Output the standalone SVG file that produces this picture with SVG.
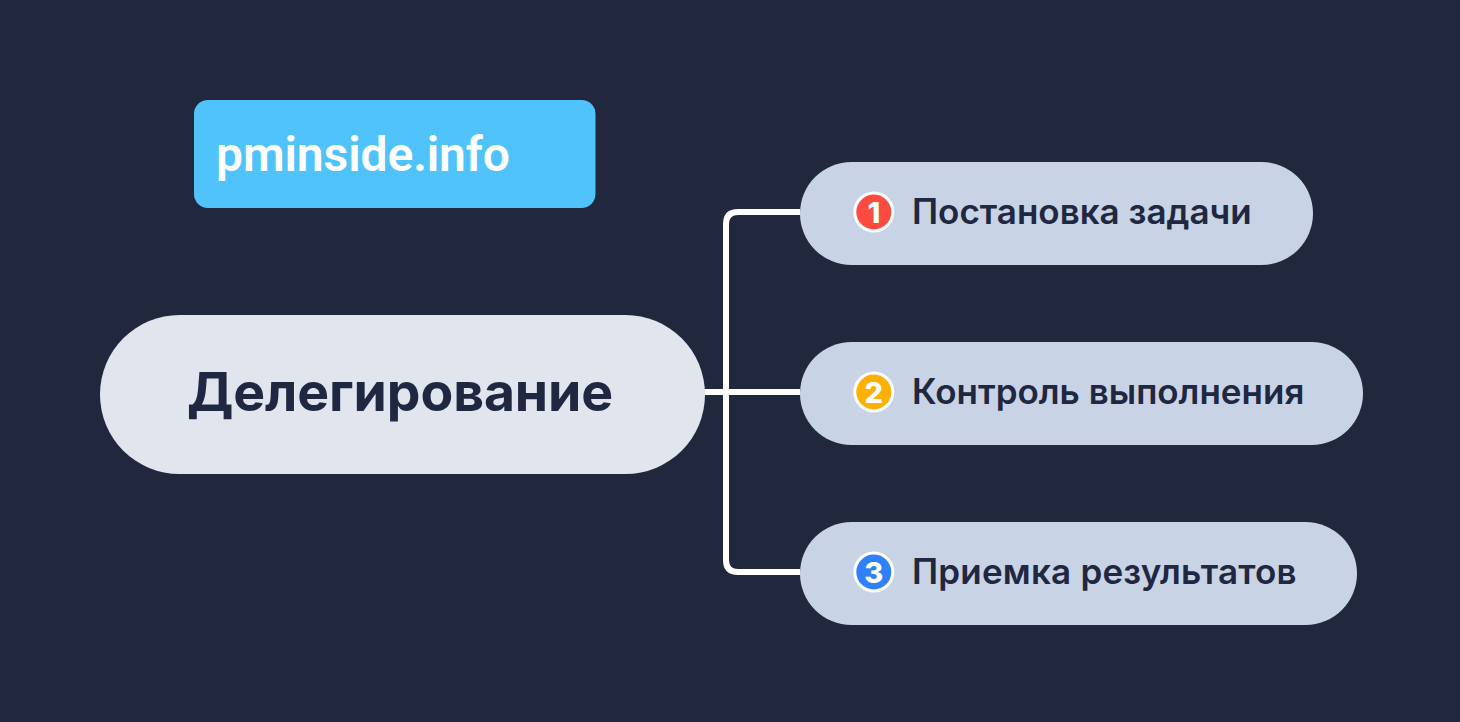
<svg xmlns="http://www.w3.org/2000/svg" width="1460" height="722" viewBox="0 0 1460 722">
<style>
.t{font-family:"Inter","Noto Sans",sans-serif;font-weight:600;fill:#1f2840}
.s{font-size:35px}
.n{font-family:"Inter","Liberation Sans",sans-serif;font-weight:800;font-size:29px;fill:#fff;text-anchor:middle}
.b{fill:#c8d3e5}
.c{stroke:#fff;stroke-width:3}
#connectors path{fill:none;stroke:#fff;stroke-width:6}
</style>
<rect width="1460" height="722" fill="#21273d"/>
<g id="connectors">
<path d="M800 212H738Q726 212 726 224V560Q726 572 738 572H800"/>
<path d="M700 392H800"/>
</g>
<g id="brand"><rect x="194" y="100" width="401.500" height="108" rx="14" fill="#50c4fa"/>
<text x="216" y="171" font-family="Roboto,sans-serif" font-weight="600" font-size="48" letter-spacing="-0.1" fill="#fff">pminside.info</text></g>
<g id="root"><rect x="100" y="315" width="605" height="159" rx="79.500" fill="#e0e5ee"/>
<text class="t" x="187" y="411" font-size="53.500" style="font-weight:700" letter-spacing="-0.1">Делегирование</text></g>
<g id="node1"><rect class="b" x="800" y="162" width="513" height="103" rx="51.500"/>
<circle class="c" cx="873.800" cy="212" r="19" fill="#fb4a3f"/><text class="n" x="873.800" y="222.500">1</text>
<text class="t s" x="912" y="224">Постановка задачи</text></g>
<g id="node2"><rect class="b" x="800" y="342" width="563" height="103" rx="51.500"/>
<circle class="c" cx="873.800" cy="392" r="19" fill="#ffb005"/><text class="n" x="873.800" y="402.500">2</text>
<text class="t s" x="912" y="404">Контроль выполнения</text></g>
<g id="node3"><rect class="b" x="800" y="522" width="557" height="103" rx="51.500"/>
<circle class="c" cx="873.800" cy="572" r="19" fill="#2f80fb"/><text class="n" x="873.800" y="582.500">3</text>
<text class="t s" x="912" y="584" letter-spacing="0.2">Приемка результатов</text></g>
</svg>
